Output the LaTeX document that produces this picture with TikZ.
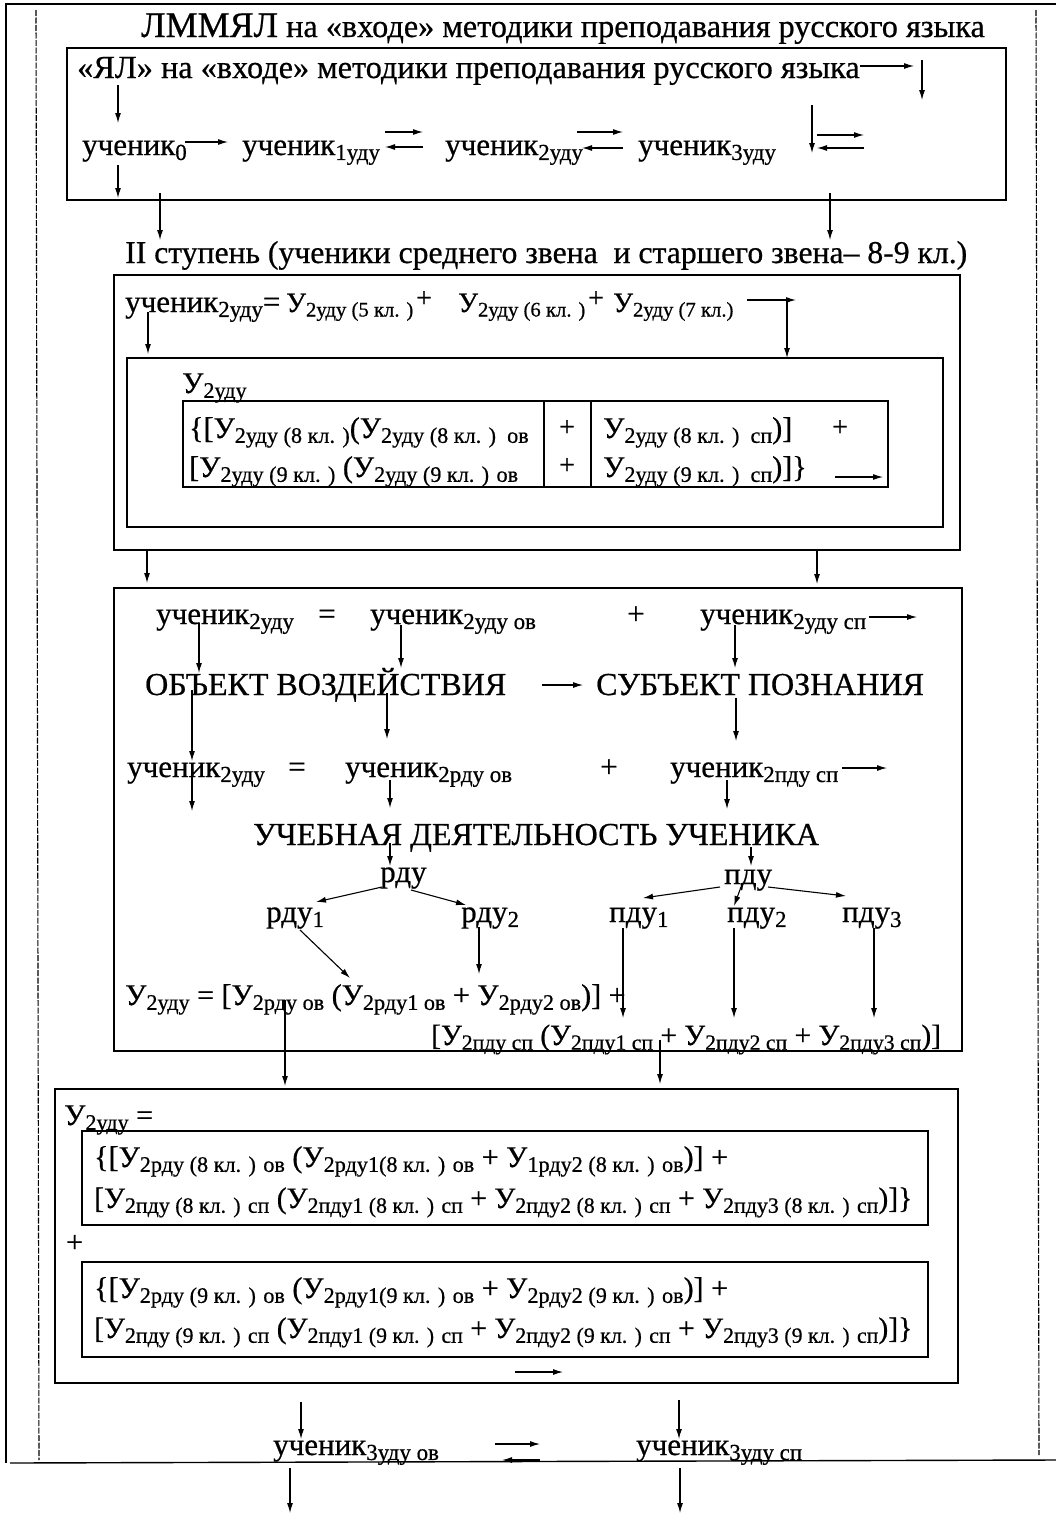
\documentclass[tikz,border=0pt]{standalone}
\usepackage{fontspec}
\setmainfont{Liberation Serif}[FakeBold=0.6]
\usetikzlibrary{arrows.meta}
\makeatletter
\newcommand\fs[1]{\fontsize{#1}{#1}\selectfont}
\newcommand\lo[1]{\raisebox{-0.35ex}{\fontsize{\strip@pt\dimexpr0.74\dimexpr\f@size pt\relax\relax}{1}\selectfont#1}}
\makeatother
\newcommand\conn[3]{\coordinate (#1s) at (#2); \coordinate (#1e) at (#3); \draw[arr] (#1s) -- (#1e);}
\tikzset{
  box/.style={draw, line width=1.8pt},
  thinbox/.style={draw, line width=1.4pt},
  frame/.style={line width=1.4pt},
  sideline/.style={line width=1.1pt, dash pattern=on 6pt off 1.5pt},
  arr/.style={line width=1.1pt, -{Latex[length=10pt,width=6pt]}},
  t/.style={anchor=base west, inner sep=0pt, font=\fs{31}},
  big/.style={anchor=base west, inner sep=0pt, font=\fs{32.3}},
  caps/.style={anchor=base west, inner sep=0pt, font=\fs{32}},
  s/.style={anchor=base west, inner sep=0pt, font=\fs{30}},
  slong/.style={anchor=base west, inner sep=0pt, font=\fs{29.6}},
  s2/.style={anchor=base west, inner sep=0pt, font=\fs{28}},
  pl/.style={inner sep=0pt, font=\fs{28}},
}
\begin{document}
\begin{tikzpicture}[x=1pt,y=-1pt]
\useasboundingbox (0,0) rectangle (1056,1515);
\fill[white] (0,0) rectangle (1056,1515);
% frame
\draw[frame] (5,4) -- (1056,4);
\draw[frame] (6,4) -- (6,1463);
\draw[sideline] (36,10) -- (39,1460);
\draw[sideline] (1036,10) -- (1039,1455);
\draw[frame] (10,1463) -- (1056,1460);
% title
\node[big] (title) at (141,37) {{\fs{36}ЛММЯЛ} на «входе» методики преподавания русского языка};
% box 1
\draw[box] (67,48) rectangle (1006,200);
\node[big] (yal) at (77,78) {«ЯЛ» на «входе» методики преподавания русского языка};
\conn{a1}{860,66}{914,66}
\conn{a2}{922,60}{922,100}
\conn{a3}{118,85}{118,123}
\node[t] (u0) at (82,155) {ученик\lo{0}};
\conn{a4}{185,142}{228,142}
\node[t] (u1) at (242,155) {ученик\lo{1уду}};
\conn{a5}{385,132}{423,132}
\conn{a6}{423,147}{385,147}
\node[t] (u2) at (445,155) {ученик\lo{2уду}};
\conn{a7}{577,132}{623,132}
\conn{a8}{623,148}{582,148}
\node[t] (u3) at (638,155) {ученик\lo{3уду}};
\conn{a9}{812,105}{812,153}
\conn{a10}{817,135}{864,135}
\conn{a11}{864,148}{817,148}
\conn{a12}{118,165}{118,198}
\conn{a13}{160,193}{160,240}
\conn{a14}{830,193}{830,240}
% title 2
\node[t, font=\fs{31.7}] (st2) at (125,263) {II ступень (ученики среднего звена\ \ и старшего звена– 8-9 кл.)};
% box 2
\draw[box] (114,275) rectangle (960,550);
\node[t] (r2a) at (125,312) {ученик\lo{2уду}=};
\node[s2] (r2b) at (286,312) {У\lo{2уду (5 кл. )}};
\node[pl] (r2p1) at (424,299) {+};
\node[s2] (r2c) at (458,312) {У\lo{2уду (6 кл. )}};
\node[pl] (r2p2) at (596,299) {+};
\node[s2] (r2d) at (613,312) {У\lo{2уду (7 кл.)}};
\conn{b1}{747,300}{796,300}
\conn{b2}{787,300}{787,358}
\conn{b3}{148,312}{148,354}
\draw[thinbox] (127,358) rectangle (943,527);
\node[s] (lab) at (182,393) {У\lo{2уду}};
\draw[thinbox] (183,401) rectangle (888,487);
\draw[thinbox] (544,401) -- (544,487);
\draw[thinbox] (591,401) -- (591,487);
\node[s] (t11) at (189,438) {\{[У\lo{2уду (8 кл. )}(У\lo{2уду (8 кл. )\ \ ов}};
\node[pl] (t12) at (567,428) {+};
\node[s] (t13) at (603,438) {У\lo{2уду (8 кл. )\ \ сп})]};
\node[pl] (t14) at (840,428) {+};
\node[s] (t21) at (189,477) {[У\lo{2уду (9 кл. )}\ (У\lo{2уду (9 кл. ) ов}};
\node[pl] (t22) at (567,466) {+};
\node[s] (t23) at (603,477) {У\lo{2уду (9 кл. )\ \ сп})]\}};
\conn{b4}{835,477}{883,477}
\conn{b5}{147,550}{147,583}
\conn{b6}{817,550}{817,584}
% box 3
\draw[box] (114,588) rectangle (962,1051);
\node[t] (ra1) at (156,624) {ученик\lo{2уду}};
\node[t] (ra2) at (318,624) {=};
\node[t] (ra3) at (370,624) {ученик\lo{2уду ов}};
\node[t] (ra4) at (627,624) {+};
\node[t] (ra5) at (700,624) {ученик\lo{2уду сп}};
\conn{c1}{869,617}{917,617}
\conn{c2}{199,623}{199,673}
\conn{c3}{401,625}{401,668}
\conn{c4}{735,625}{735,668}
\node[caps] (ob) at (145,695) {ОБЪЕКТ ВОЗДЕЙСТВИЯ};
\conn{c5}{542,685}{583,685}
\node[caps] (sub) at (596,695) {СУБЪЕКТ ПОЗНАНИЯ};
\conn{c6}{192,690}{192,761}
\conn{c7}{387,693}{387,739}
\conn{c8}{736,698}{736,741}
\node[t] (rc1) at (127,777) {ученик\lo{2уду}};
\node[t] (rc2) at (288,777) {=};
\node[t] (rc3) at (345,777) {ученик\lo{2рду ов}};
\node[t] (rc4) at (600,777) {+};
\node[t] (rc5) at (670,777) {ученик\lo{2пду сп}};
\conn{c9}{842,768}{887,768}
\conn{c10}{192,777}{192,811}
\conn{c11}{390,780}{390,808}
\conn{c12}{727,780}{727,809}
\node[caps] (ud) at (253,845) {УЧЕБНАЯ ДЕЯТЕЛЬНОСТЬ УЧЕНИКА};
\conn{c13}{390,843}{390,866}
\conn{c14}{751,847}{751,866}
\node[t] (rdu) at (380,882) {рду};
\node[t] (pdu) at (724,884) {пду};
\conn{d1}{382,887}{316,902}
\conn{d2}{411,890}{466,905}
\conn{d3}{720,887}{643,898}
\conn{d4}{741,887}{734,906}
\conn{d5}{768,887}{846,896}
\node[t] (r1) at (266,922) {рду\lo{1}};
\node[t] (r2) at (461,922) {рду\lo{2}};
\node[t] (p1) at (609,922) {пду\lo{1}};
\node[t] (p2) at (727,922) {пду\lo{2}};
\node[t] (p3) at (842,922) {пду\lo{3}};
\conn{d6}{300,930}{350,978}
\conn{d7}{479,927}{479,974}
\conn{d8}{623,928}{623,1018}
\conn{d9}{734,928}{734,1018}
\conn{d10}{874,928}{874,1018}
\node[s] (rf) at (125,1005) {У\lo{2уду} = [У\lo{2рду ов} (У\lo{2рду1 ов} + У\lo{2рду2 ов})] +};
\node[s, font=\fs{29.4}] (rg) at (431,1045) {[У\lo{2пду сп} (У\lo{2пду1 сп} + У\lo{2пду2 сп} + У\lo{2пду3 сп})]};
\conn{e1}{285,1000}{285,1086}
\conn{e2}{660,1040}{660,1084}
% box 4
\draw[box] (55,1089) rectangle (958,1383);
\node[s] (y4) at (64,1125) {У\lo{2уду} =};
\draw[thinbox] (82,1131) rectangle (928,1225);
\node[s] (a1l) at (94,1167) {\{[У\lo{2рду (8 кл. ) ов} (У\lo{2рду1(8 кл. ) ов} + У\lo{1рду2 (8 кл. ) ов})] +};
\node[slong] (a2l) at (94,1208) {[У\lo{2пду (8 кл. ) сп} (У\lo{2пду1 (8 кл. ) сп} + У\lo{2пду2 (8 кл. ) сп} + У\lo{2пду3 (8 кл. ) сп})]\}};
\node[s] (plus4) at (66,1252) {+};
\draw[thinbox] (82,1262) rectangle (928,1357);
\node[s] (b1l) at (94,1298) {\{[У\lo{2рду (9 кл. ) ов} (У\lo{2рду1(9 кл. ) ов} + У\lo{2рду2 (9 кл. ) ов})] +};
\node[slong] (b2l) at (94,1338) {[У\lo{2пду (9 кл. ) сп} (У\lo{2пду1 (9 кл. ) сп} + У\lo{2пду2 (9 кл. ) сп} + У\lo{2пду3 (9 кл. ) сп})]\}};
\conn{f1}{515,1372}{563,1372}
\conn{f2}{301,1402}{301,1439}
\conn{f3}{679,1400}{679,1439}
\node[t] (u3o) at (273,1455) {ученик\lo{3уду ов}};
\conn{f4}{495,1444}{540,1444}
\conn{f5}{540,1460}{502,1460}
\node[t] (u3s) at (636,1455) {ученик\lo{3уду сп}};
\conn{f6}{290,1468}{290,1513}
\conn{f7}{680,1468}{680,1513}
\end{tikzpicture}
\end{document}
